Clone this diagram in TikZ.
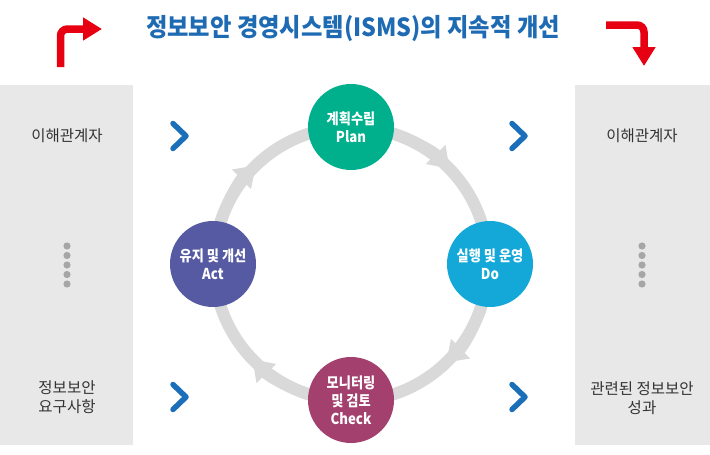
\documentclass[tikz,border=0pt]{standalone}
\usepackage{fontspec}
\setmainfont{Noto Sans CJK KR}
\newfontfamily\titlefont[FakeStretch=0.93]{Noto Sans CJK KR}
\newfontfamily\stepfont[FakeStretch=0.88]{Noto Sans CJK KR}
\usetikzlibrary{arrows.meta}
\definecolor{titleblue}{RGB}{30,106,179}
\definecolor{chevblue}{RGB}{26,111,184}
\definecolor{arrowred}{RGB}{230,0,18}
\definecolor{panelgray}{RGB}{232,232,232}
\definecolor{ringgray}{RGB}{217,217,217}
\definecolor{dotgray}{RGB}{166,166,166}
\definecolor{plangreen}{RGB}{0,176,140}
\definecolor{docyan}{RGB}{20,168,216}
\definecolor{checkred}{RGB}{163,64,110}
\definecolor{actblue}{RGB}{85,90,163}
\definecolor{textgray}{RGB}{51,51,51}

\tikzset{
	stepcircle/.style={circle, minimum size=86pt, inner sep=0pt, align=center, text=white, font=\stepfont\bfseries\fontsize{15}{18}\selectfont},
	paneltext/.style={align=center, text=textgray, font=\fontsize{15.5}{19}\selectfont},
	chevron/.style={chevblue, line width=5.5pt, line cap=round, line join=round},
	redarrow/.style={arrowred, line width=7.5pt, rounded corners=7pt, -{Triangle[width=22pt,length=19pt]}},
	ringtip/.style={ringgray, line width=12pt, -{Triangle[width=26pt,length=20pt]}}
}

\begin{document}
\begin{tikzpicture}[x=1pt,y=-1pt]
	\useasboundingbox (0,0) rectangle (710,455);
	\coordinate (O) at (351,264);
	
	% panels
	\fill[panelgray] (0,85) rectangle (133,445);
	\fill[panelgray] (575,85) rectangle (710,445);
	
	% title and red arrows
	\node (title) at (353,28) {\titlefont\bfseries\fontsize{25}{28}\selectfont\color{titleblue}정보보안 경영시스템(ISMS)의 지속적 개선};
	\draw[redarrow] (60.5,67) |- (102,29);
	\draw[redarrow] (606,25) -| (644,66);
	
	% ring
	\draw[ringgray, line width=12pt] (O) circle (137);
	\foreach \a in {-90,0,90,180}
		\draw[ringtip] (O) ++(\a+18:137) arc (\a+18:\a+46:137);
	
	% steps
	\node[stepcircle, fill=plangreen] (plan) at (351,127) {계획수립\\Plan};
	\node[stepcircle, fill=docyan] (do) at (490,264) {실행 및 운영\\Do};
	\node[stepcircle, fill=checkred] (check) at (351,400) {모니터링\\및 검토\\Check};
	\node[stepcircle, fill=actblue] (act) at (213,264) {유지 및 개선\\Act};
	
	% panel texts
	\node[paneltext] (inLeft) at (67,136) {이해관계자};
	\node[paneltext] (reqLeft) at (67,397) {정보보안\\요구사항};
	\node[paneltext] (inRight) at (642,136) {이해관계자};
	\node[paneltext] (outRight) at (642,398) {관련된 정보보안\\성과};
	\foreach \x in {67,642}
		\foreach \y in {246,255.5,265,274.5,284}
			\fill[dotgray] (\x,\y) circle (3.6);
	
	% chevrons
	\foreach \x in {173,512}
		\foreach \y in {136,397}
			\draw[chevron] (\x,\y-12.5) -- (\x+13,\y) -- (\x,\y+12.5);
\end{tikzpicture}
\end{document}
